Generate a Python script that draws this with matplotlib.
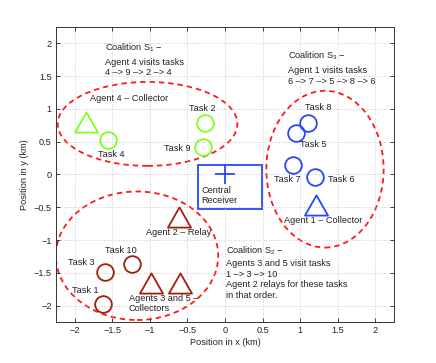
import matplotlib
matplotlib.use("Agg")
import matplotlib.pyplot as plt
from matplotlib.patches import Ellipse, Rectangle
from matplotlib.path import Path

plt.rcParams["font.family"] = ["Liberation Sans", "DejaVu Sans"]
plt.rcParams["mathtext.fontset"] = "custom"
plt.rcParams["mathtext.rm"] = "Liberation Sans"
plt.rcParams["mathtext.it"] = "Liberation Sans"

GREEN = "#7fff1f"
BLUE = "#2a45ff"
BROWN = "#a0200f"
RED = "#ff1a1a"

# coalition S1 (green)
s1_task_x = [-1.56, -0.26, -0.29]
s1_task_y = [0.53, 0.78, 0.42]
s1_agent_x = [-1.85]
s1_agent_y = [0.80]

# coalition S3 (blue)
s3_task_x = [1.10, 0.94, 0.90, 1.20]
s3_task_y = [0.79, 0.63, 0.14, -0.04]
s3_agent_x = [1.21]
s3_agent_y = [-0.47]

# coalition S2 (brown)
s2_task_x = [-1.23, -1.59, -1.62]
s2_task_y = [-1.36, -1.49, -1.97]
s2_agent_x = [-0.61, -0.99, -0.60]
s2_agent_y = [-0.65, -1.65, -1.65]

receiver = (0.0, 0.0)

# ellipses: center x, center y, width, height
ell_cx = [-1.03, 1.33, -1.17]
ell_cy = [0.77, 0.08, -1.24]
ell_w = [2.39, 1.56, 2.16]
ell_h = [1.28, 2.39, 1.96]

tri = Path([(-1, -0.875), (1, -0.875), (0, 0.875), (-1, -0.875)],
           [Path.MOVETO, Path.LINETO, Path.LINETO, Path.CLOSEPOLY])

fig = plt.figure(figsize=(4.36, 3.63), dpi=100)
ax = fig.add_axes([0.128, 0.113, 0.776, 0.813])

for cx, cy, w, h in zip(ell_cx, ell_cy, ell_w, ell_h):
    ax.add_patch(Ellipse((cx, cy), w, h, fill=False, edgecolor=RED,
                         linestyle=(0, (3, 2.2)), linewidth=1.3))

ax.add_patch(Rectangle((-0.36, -0.52), 0.85, 0.67, fill=False,
                       edgecolor=BLUE, linewidth=1.3))
ax.plot(*receiver, marker="+", markersize=14, markeredgewidth=1.3, color=BLUE)

for tx, ty, axx, ayy, c in [(s1_task_x, s1_task_y, s1_agent_x, s1_agent_y, GREEN),
                            (s3_task_x, s3_task_y, s3_agent_x, s3_agent_y, BLUE),
                            (s2_task_x, s2_task_y, s2_agent_x, s2_agent_y, BROWN)]:
    ax.plot(tx, ty, "o", markersize=12, markerfacecolor="none",
            markeredgecolor=c, markeredgewidth=1.3, linestyle="none")
    ax.plot(axx, ayy, marker=tri, markersize=16.6, markerfacecolor="none",
            markeredgecolor=c, markeredgewidth=1.3, linestyle="none")

fs = 6.6
def label(x, y, s, ha="left"):
    ax.text(x, y, s, fontsize=fs, ha=ha, va="center", color="#222222")

# S1 labels
label(-1.59, 1.93, r"Coalition S$_1$ $-$")
label(-1.59, 1.71, "Agent 4 visits tasks")
label(-1.59, 1.56, "4 \u2013> 9 \u2013> 2 \u2013> 4")
label(-1.80, 1.16, "Agent 4 \u2013 Collector")
label(-1.51, 0.31, "Task 4", ha="center")
label(-0.30, 1.01, "Task 2", ha="center")
label(-0.81, 0.39, "Task 9")
label(-0.31, -0.24, "Central")
label(-0.31, -0.40, "Receiver")

# S3 labels
label(0.84, 1.81, r"Coalition S$_3$ $-$")
label(0.84, 1.58, "Agent 1 visits tasks")
label(0.84, 1.42, "6 \u2013> 7 \u2013> 5 \u2013> 8 \u2013> 6")
label(1.06, 1.02, "Task 8")
label(1.00, 0.46, "Task 5")
label(0.65, -0.07, "Task 7")
label(1.37, -0.08, "Task 6")
label(0.78, -0.70, "Agent 1 \u2013 Collector")

# S2 labels
label(-1.05, -0.88, "Agent 2 \u2013 Relay")
label(-1.60, -1.16, "Task 10")
label(-2.09, -1.35, "Task 3")
label(-2.04, -1.77, "Task 1")
label(-1.28, -1.89, "Agents 3 and 5 \u2013")
label(-1.28, -2.05, "Collectors")
label(0.01, -1.16, r"Coalition S$_2$ $-$")
label(0.01, -1.36, "Agents 3 and 5 visit tasks")
label(0.01, -1.52, "1 \u2013> 3 \u2013> 10")
label(0.01, -1.68, "Agent 2 relays for these tasks")
label(0.01, -1.84, "in that order.")

ticks = [-2, -1.5, -1, -0.5, 0, 0.5, 1, 1.5, 2]
tick_labels = ["\u22122", "\u22121.5", "\u22121", "\u22120.5", "0", "0.5", "1", "1.5", "2"]
ax.set_xlim(-2.25, 2.25)
ax.set_ylim(-2.25, 2.25)
ax.set_xticks(ticks)
ax.set_yticks(ticks)
ax.set_xticklabels(tick_labels)
ax.set_yticklabels(tick_labels)
ax.tick_params(direction="in", length=3, width=0.6, top=True, right=True,
               labelsize=fs, colors="#222222", pad=3)
ax.grid(True, linestyle=(0, (1, 2)), color="#bbbbbb", linewidth=0.6)
for sp in ax.spines.values():
    sp.set_linewidth(0.7)
    sp.set_color("#333333")
ax.set_xlabel("Position in x (km)", fontsize=fs, color="#222222", labelpad=2)
ax.set_ylabel("Position in y (km)", fontsize=fs, color="#222222", labelpad=3)

fig.savefig("out.png", dpi=100)
